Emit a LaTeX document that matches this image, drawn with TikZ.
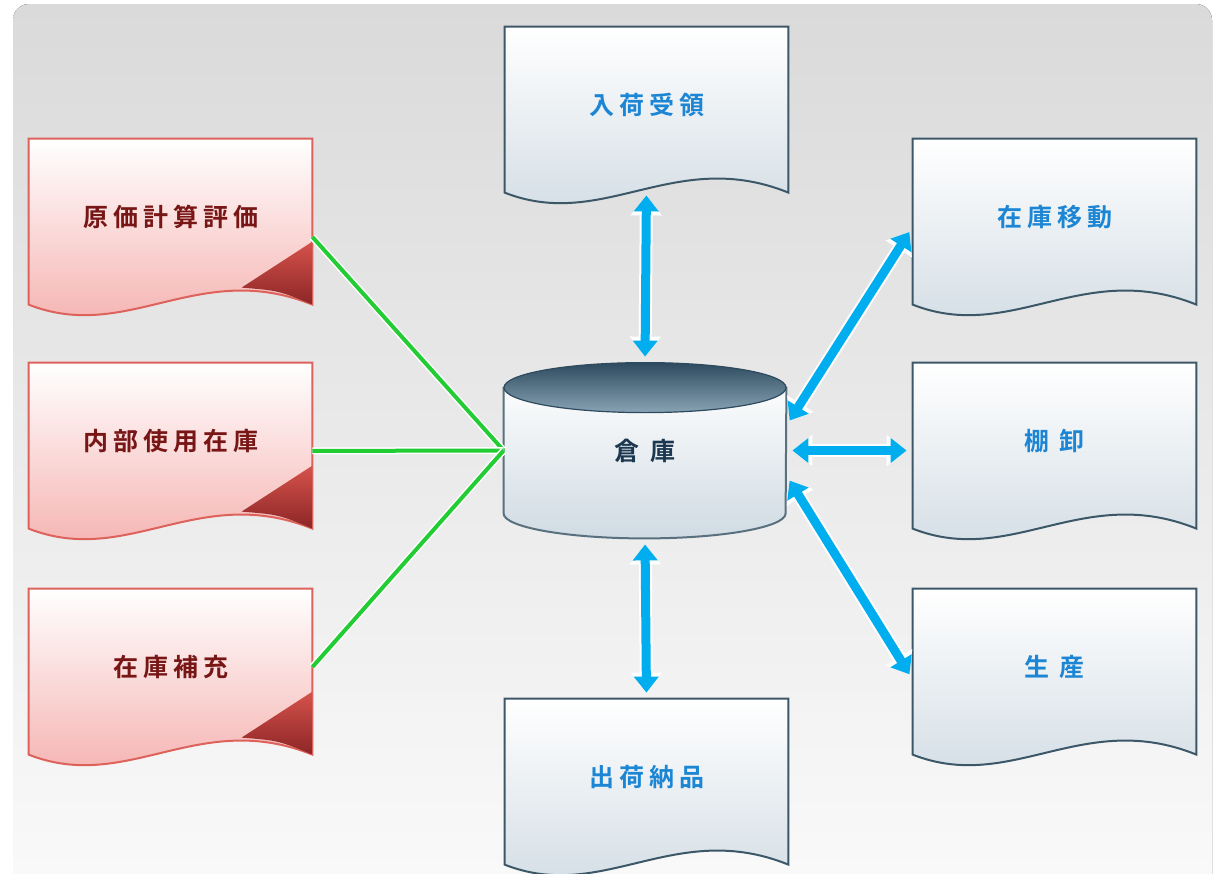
\documentclass[tikz,border=0pt]{standalone}
\usepackage{fontspec}
\newfontfamily\jp[LetterSpace=20]{Noto Sans CJK JP Bold}
\usetikzlibrary{calc,arrows.meta}
\definecolor{bgtop}{RGB}{218,218,218}
\definecolor{bgbot}{RGB}{250,250,250}
\definecolor{docline}{RGB}{60,88,104}
\definecolor{docbot}{RGB}{208,219,227}
\definecolor{rline}{RGB}{222,98,92}
\definecolor{rbot}{RGB}{244,172,170}
\definecolor{foldtop}{RGB}{214,82,76}
\definecolor{foldbot}{RGB}{140,38,38}
\definecolor{bluetxt}{RGB}{28,134,212}
\definecolor{redtxt}{RGB}{120,22,22}
\definecolor{cyltxt}{RGB}{28,56,80}
\definecolor{arrowblue}{RGB}{0,174,239}
\definecolor{linegreen}{RGB}{34,204,51}
\definecolor{cyldark}{RGB}{46,74,94}
\definecolor{cyllight}{RGB}{135,163,180}
\pgfdeclarelayer{back}
\pgfdeclarelayer{docs}
\pgfsetlayers{back,docs,main}
% wavy document body under a node
\newcommand{\docbody}[2]{%
  \path[#2] (#1.north west) -- (#1.north east) -- ($(#1.north east)+(0,166)$)
    .. controls ($(#1.north west)+(170,120)$) and ($(#1.north west)+(99,205)$) .. ($(#1.north west)+(0,166)$) -- cycle;}
\newcommand{\docfold}[1]{%
  \path[fold] ($(#1.north west)+(213,149)$) -- ($(#1.north east)+(0,103)$) -- ($(#1.north east)+(0,166)$)
    .. controls ($(#1.north west)+(250,152)$) .. cycle;}

\begin{document}
\begin{tikzpicture}[
    x = 0.5pt, y = -0.5pt,
    doc/.style = {minimum width = 141.5pt, minimum height = 78pt, inner sep = 0pt, text = bluetxt, font = {\jp\fontsize{12.5pt}{14pt}\selectfont}},
    rdoc/.style = {doc, text = redtxt},
    bluebody/.style = {draw = docline, line width = 1pt, top color = white, middle color = white!70!docbot, bottom color = docbot},
    redbody/.style = {draw = rline, line width = 1pt, top color = white, middle color = white!55!rbot, bottom color = rbot},
    fold/.style = {top color = foldtop, bottom color = foldbot},
    blink/.style = {draw = arrowblue, line width = 4.5pt, shorten <= 3pt, shorten >= 3pt,
        {Triangle[width = 12pt, length = 8pt]}-{Triangle[width = 12pt, length = 8pt]},
        preaction = {draw = white, line width = 6.5pt, {Triangle[width = 15pt, length = 10pt]}-{Triangle[width = 15pt, length = 10pt]}}},
    glink/.style = {draw = linegreen, line width = 2pt, preaction = {draw = white, line width = 3.5pt}},
]
\useasboundingbox (0,0) rectangle (1213,873);
\begin{pgfonlayer}{back}
\fill[rounded corners = 8pt, top color = bgtop, middle color = bgtop!90!bgbot, bottom color = bgbot] (13,4) rectangle (1212,900);
\end{pgfonlayer}

% documents
\node[rdoc] (genka) at (170.5,217) {原価計算評価};
\node[rdoc] (naibu) at (170.5,441) {内部使用在庫};
\node[rdoc] (hoju)  at (170.5,667) {在庫補充};
\node[doc] (nyuka)  at (646.5,105) {入荷受領};
\node[doc] (shukka) at (646.5,777) {出荷納品};
\node[doc] (idou)   at (1054.5,217) {在庫移動};
\node[doc] (tana)   at (1054.5,441) {棚 卸};
\node[doc] (seisan) at (1054.5,667) {生 産};
\node[minimum width = 141pt, minimum height = 87.5pt, inner sep = 0pt, text = cyltxt, font = {\jp\fontsize{12.5pt}{14pt}\selectfont}] (soko) at (645,450.5) {\raisebox{-7pt}{倉 庫}};

\begin{pgfonlayer}{docs}
\foreach \n in {genka,naibu,hoju} {\docbody{\n}{redbody}\docfold{\n}}
\foreach \n in {nyuka,shukka,idou,tana,seisan} {\docbody{\n}{bluebody}}
% cylinder
\path[draw = docline!85, line width = 1pt, top color = white!92!docbot, bottom color = docbot]
  ($(soko.north west)+(0,25)$) -- ($(soko.south west)+(0,-25)$)
  arc[start angle = 180, end angle = 360, x radius = 70.5pt, y radius = 12.5pt]
  -- ($(soko.north east)+(0,25)$) -- cycle;
\path[top color = cyldark, bottom color = cyllight, draw = cyldark, line width = 0.6pt]
  ($(soko.north)+(0,25)$) ellipse [x radius = 70.5pt, y radius = 12.5pt];
\end{pgfonlayer}

% links
\draw[glink] (soko.west) -- (genka.-8);
\draw[glink] (soko.west) -- (naibu.-4);
\draw[glink] (soko.west) -- (hoju.east);
\draw[blink, shorten <= 6pt] (nyuka.south) -- (soko.north);
\draw[blink] (soko.south) -- (shukka.north);
\draw[blink] (soko.10) -- (idou.184);
\draw[blink] (soko.east) -- (tana.west |- soko.east);
\draw[blink] (soko.-10) -- (seisan.185);
\end{tikzpicture}
\end{document}
